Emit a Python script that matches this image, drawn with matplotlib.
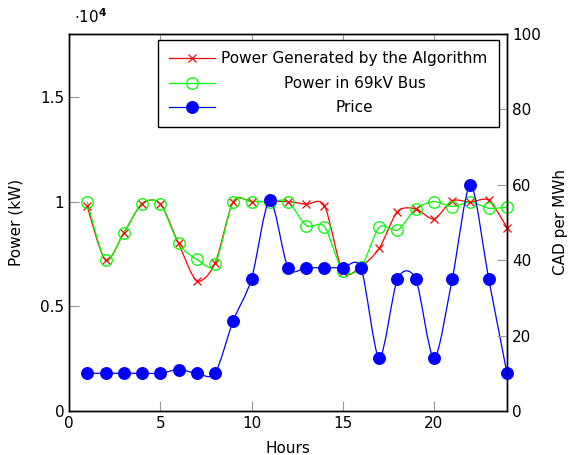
import matplotlib
matplotlib.use("Agg")
import matplotlib.pyplot as plt
import matplotlib.ticker as mticker
from matplotlib.path import Path
from matplotlib.patches import PathPatch
from matplotlib.lines import Line2D

hours = list(range(1, 25))

power_algorithm = [9800, 7200, 8500, 9900, 9900, 8000, 6220, 7050,
                   10000, 10000, 10000, 10000, 9870, 9800, 6650, 6900,
                   7770, 9520, 9650, 9170, 10040, 9970, 10060, 8750]

power_bus = [10000, 7200, 8500, 9900, 9900, 8000, 7240, 7000,
             10000, 10000, 10000, 10000, 8850, 8800, 6690, 6860,
             8770, 8640, 9650, 10000, 9760, 9970, 9680, 9730]

price = [10, 10, 10, 10, 10, 11, 10, 10,
         24, 35, 56, 38, 38, 38, 38, 38,
         14, 35, 35, 14, 35, 60, 35, 10]

LABELS = ["Power Generated by the Algorithm", "Power in 69kV Bus", "Price"]
RED, GREEN, BLUE = "#ff0000", "#00ff00", "#0000ff"

TENSION = 0.139  # roughly what tikz "smooth" does


def smooth_path(xs, ys, k=TENSION):
    """Bezier path through the points, like pgfplots' smooth option."""
    pts = list(zip(xs, ys))
    n = len(pts)
    verts = [pts[0]]
    codes = [Path.MOVETO]
    for i in range(n - 1):
        p0 = pts[i]
        p1 = pts[i + 1]
        if i == 0:
            c1 = p0
        else:
            a = pts[i - 1]
            c1 = (p0[0] + k * (p1[0] - a[0]), p0[1] + k * (p1[1] - a[1]))
        if i + 1 == n - 1:
            c2 = p1
        else:
            b = pts[i + 2]
            c2 = (p1[0] - k * (b[0] - p0[0]), p1[1] - k * (b[1] - p0[1]))
        verts += [c1, c2, p1]
        codes += [Path.CURVE4] * 3
    return Path(verts, codes)


def draw_series(ax, xs, ys, line_color, **marker_kw):
    ax.add_patch(PathPatch(smooth_path(xs, ys), facecolor="none",
                           edgecolor=line_color, linewidth=0.9))
    ax.plot(xs, ys, linestyle="none", clip_on=False, **marker_kw)


plt.rcParams["font.family"] = "DejaVu Sans"
fig = plt.figure(figsize=(5.69, 4.55), dpi=100)
ax = fig.add_axes([0.1213, 0.0967, 0.7697, 0.8286])
ax2 = ax.twinx()

draw_series(ax, hours, power_algorithm, RED, marker="x", color=RED,
            markersize=6, markeredgewidth=0.9)
draw_series(ax, hours, power_bus, GREEN, marker="o", color=GREEN,
            markerfacecolor="none", markersize=8.3, markeredgewidth=0.9)
draw_series(ax2, hours, price, BLUE, marker="o", color=BLUE,
            markersize=8.3)

ax.set_xlim(0, 24)
ax.set_ylim(0, 18000)
ax2.set_ylim(0, 100)
ax.xaxis.set_major_locator(mticker.MultipleLocator(5))
ax.yaxis.set_major_locator(mticker.MultipleLocator(5000))
ax2.yaxis.set_major_locator(mticker.MultipleLocator(20))
ax.yaxis.set_major_formatter(mticker.FuncFormatter(lambda v, p: f"{v / 1e4:g}"))

tick_kw = dict(direction="in", length=7.5, width=0.8, color="#999999",
               labelcolor="black", labelsize=11, pad=3.5)
ax.tick_params(axis="x", top=True, **tick_kw)
ax.tick_params(axis="y", **tick_kw)
ax2.tick_params(axis="y", **tick_kw)
for a in (ax, ax2):
    for s in a.spines.values():
        s.set_linewidth(1.0)
        s.set_color("black")

ax.set_xlabel("Hours", fontsize=11, labelpad=7)
ax.set_ylabel("Power (kW)", fontsize=11, labelpad=12)
ax2.set_ylabel("CAD per MWh", fontsize=11, labelpad=9)
ax.text(0.012, 1.022, r"$\cdot 10^{\mathbf{4}}$", transform=ax.transAxes,
        ha="left", va="bottom", fontsize=11)

handles = [
    Line2D([], [], color=RED, lw=0.9, marker="x", markersize=6, markeredgewidth=0.9),
    Line2D([], [], color=GREEN, lw=0.9, marker="o", markerfacecolor="none",
           markersize=8.3, markeredgewidth=0.9),
    Line2D([], [], color=BLUE, lw=0.9, marker="o", markersize=8.3),
]
leg = ax2.legend(handles, LABELS, loc="upper right", bbox_to_anchor=(0.982, 0.984),
                 borderaxespad=0, fancybox=False, edgecolor="black", framealpha=1,
                 fontsize=11, numpoints=1, handlelength=3.0, labelspacing=0.62,
                 borderpad=0.75, handletextpad=0.4)
leg.get_frame().set_linewidth(1.0)

# pgfplots centres the legend entries, shift the shorter ones over
fig.canvas.draw()
renderer = fig.canvas.get_renderer()
texts = leg.get_texts()
widths = [t.get_window_extent(renderer).width for t in texts]
wmax = max(widths)
for t, w in zip(texts, widths):
    t.set_x((wmax - w) / 2)

fig.savefig("out.png", dpi=100)
